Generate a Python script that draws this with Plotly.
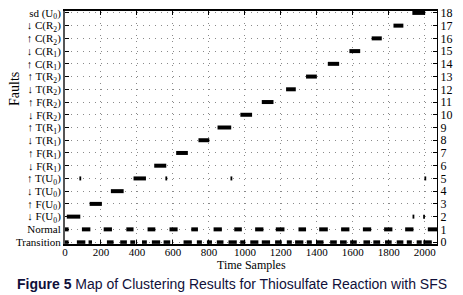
import plotly.graph_objects as go

# ---- data -------------------------------------------------------------
row_labels = [
    "Transition", "Normal",
    "↓ F(U<sub>0</sub>)", "↑ F(U<sub>0</sub>)", "↓ T(U<sub>0</sub>)", "↑ T(U<sub>0</sub>)",
    "↓ F(R<sub>1</sub>)", "↑ F(R<sub>1</sub>)", "↓ T(R<sub>1</sub>)", "↑ T(R<sub>1</sub>)",
    "↓ F(R<sub>2</sub>)", "↑ F(R<sub>2</sub>)", "↓ T(R<sub>2</sub>)", "↑ T(R<sub>2</sub>)",
    "↑ C(R<sub>1</sub>)", "↓ C(R<sub>1</sub>)", "↑ C(R<sub>2</sub>)", "↓ C(R<sub>2</sub>)",
    "sd (U<sub>0</sub>)",
]
row_numbers = list(range(19))
x_ticks = [0, 200, 400, 600, 800, 1000, 1200, 1400, 1600, 1800, 2000]

# fault class blocks: (row, start sample, end sample)
fault_blocks = [
    (2, 10, 85), (3, 137, 205), (4, 255, 326), (5, 381, 450),
    (6, 496, 563), (7, 618, 683), (8, 742, 802), (9, 848, 924),
    (10, 975, 1040), (11, 1094, 1159), (12, 1229, 1283), (13, 1340, 1400),
    (14, 1461, 1524), (15, 1581, 1641), (16, 1705, 1761), (17, 1826, 1881),
    (18, 1931, 2002),
]
# isolated misclassified samples: (row, sample)
stray_points = [(5, 85), (5, 563), (5, 925), (5, 2003), (2, 1937), (2, 1996)]

normal_blocks = [
    (0, 20), (94, 141), (215, 261), (341, 381), (459, 502), (581, 626),
    (702, 739), (826, 872), (941, 983), (1057, 1103), (1172, 1220),
    (1298, 1340), (1413, 1461), (1535, 1581), (1656, 1702), (1774, 1820),
    (1891, 1937), (2017, 2068),
]
transition_blocks = [
    (0, 20), (66, 113), (131, 150), (233, 270), (307, 344), (363, 390),
    (428, 455), (483, 529), (548, 585), (659, 705), (733, 761), (789, 817),
    (844, 881), (909, 955), (974, 1002), (1030, 1075), (1094, 1140),
    (1168, 1205), (1233, 1261), (1279, 1325), (1344, 1372), (1400, 1437),
    (1474, 1511), (1529, 1566), (1585, 1622), (1659, 1696), (1714, 1752),
    (1779, 1816), (1844, 1881), (1900, 1928), (1955, 1983), (1992, 2039),
]
x_max = 2068

# ---- build ------------------------------------------------------------
def segs(blocks, row=None):
    xs, ys = [], []
    for b in blocks:
        if row is None:
            r, s, e = b
        else:
            r = row
            s, e = b
        xs += [s, e, None]
        ys += [r, r, None]
    return xs, ys

fig = go.Figure()

fx, fy = segs(fault_blocks)
fig.add_trace(go.Scatter(x=fx, y=fy, mode="lines",
                         line=dict(color="black", width=4), hoverinfo="skip"))
sx, sy = [], []
for r, p in stray_points:
    sx += [p - 5, p + 5, None]
    sy += [r, r, None]
fig.add_trace(go.Scatter(x=sx, y=sy, mode="lines",
                         line=dict(color="black", width=4), hoverinfo="skip"))
nx, ny = segs(normal_blocks, row=1)
fig.add_trace(go.Scatter(x=nx, y=ny, mode="lines",
                         line=dict(color="black", width=4), hoverinfo="skip"))
tx, ty = segs(transition_blocks, row=0)
fig.add_trace(go.Scatter(x=tx, y=ty, mode="lines",
                         line=dict(color="black", width=3.5), hoverinfo="skip"))
# invisible trace to activate right axis
fig.add_trace(go.Scatter(x=[None], y=[None], yaxis="y2", showlegend=False))

serif = "Liberation Serif, Times New Roman, serif"
yrange = [-0.15, 18.15]
OFF = 8                       # page body margin
W, H = 463 - OFF, 295 - OFF
L, R, T, B = 65 - OFF, 26, 11 - OFF, 51

fig.update_layout(
    width=W, height=H,
    margin=dict(l=L, r=R, t=T, b=B, autoexpand=False),
    paper_bgcolor="white", plot_bgcolor="white",
    showlegend=False,
    font=dict(family=serif, size=11, color="black"),
    xaxis=dict(
        range=[0, x_max], tickvals=x_ticks, ticktext=[str(v) for v in x_ticks],
        ticks="inside", ticklen=4, tickcolor="black", mirror="ticks",
        showline=True, linecolor="black", linewidth=1.5, automargin=False,
        ticklabelstandoff=-3, ticklabeloverflow="allow",
        showgrid=True, gridcolor="#8a8a8a", gridwidth=1, griddash="1px,5px",
        zeroline=False, tickfont=dict(family=serif, size=11),
    ),
    yaxis=dict(
        range=yrange, tickvals=row_numbers, ticktext=row_labels,
        ticks="inside", ticklen=4, tickcolor="black", automargin=False,
        ticklabeloverflow="allow",
        showline=True, linecolor="#555555", linewidth=2,
        showgrid=True, gridcolor="#8a8a8a", gridwidth=1, griddash="1px,5px",
        zeroline=False, tickfont=dict(family=serif, size=11),
    ),
    yaxis2=dict(
        range=yrange, overlaying="y", side="right", automargin=False,
        ticklabeloverflow="allow",
        tickvals=row_numbers, ticktext=[str(v) for v in row_numbers],
        ticks="inside", ticklen=4, tickcolor="black",
        showline=True, linecolor="black", linewidth=1,
        showgrid=False, zeroline=False, tickfont=dict(family=serif, size=12),
    ),
)

# annotations placed by page-pixel position (centre), converted to paper coords
pw, ph = W - L - R, H - T - B
def ann(text, px, py, **kw):
    px, py = px - OFF, py - OFF
    return dict(text=text, xref="paper", yref="paper",
                x=(px - L) / pw, y=(H - B - py) / ph,
                xanchor="center", yanchor="middle", showarrow=False, **kw)

fig.update_layout(annotations=[
    ann("Faults", 14, 89, textangle=-90, font=dict(family=serif, size=14)),
    ann("Time Samples", 251, 265, font=dict(family=serif, size=12)),
    ann("<b>Figure 5</b> Map of Clustering Results for Thiosulfate Reaction with SFS",
        232, 284, font=dict(family="Liberation Sans, Arial, sans-serif",
                            size=14, color="#10103a")),
])

fig.write_html("out.html")
